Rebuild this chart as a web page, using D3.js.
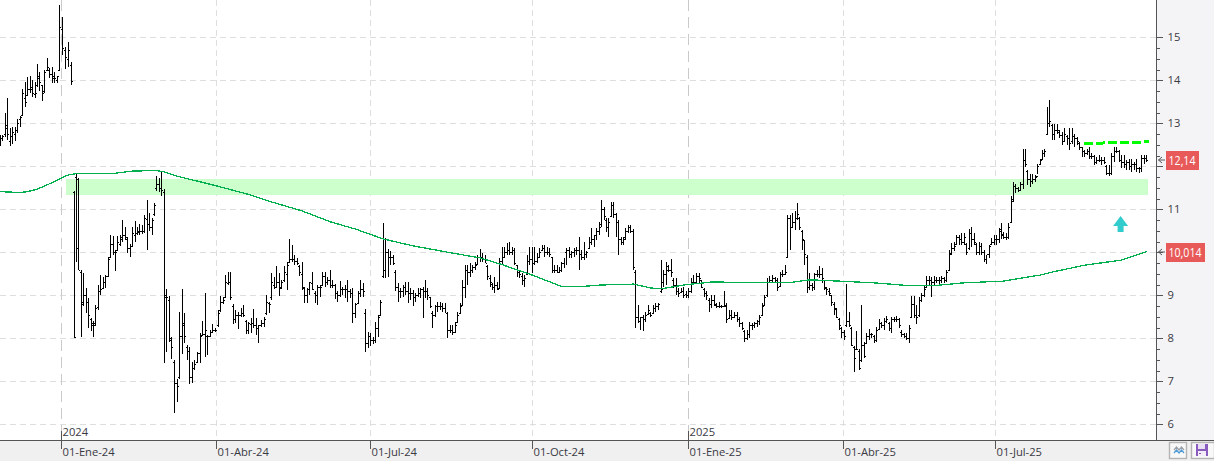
<!DOCTYPE html>
<html>
<head>
<meta charset="utf-8">
<script src="https://cdn.jsdelivr.net/npm/d3@7/dist/d3.min.js"></script>
<style>
html,body{margin:0;padding:0;background:#fff;overflow:hidden}
svg{display:block}
text{font-family:"Open Sans","Noto Sans",sans-serif}
</style>
</head>
<body>
<svg id="chart" width="1214" height="461"></svg>
<script>
// Daily high / low / open / close, one row per ten sessions
const highs = [
12.73,12.73,13.23,13.58,12.90,12.91,12.92,13.10,13.16,13.80,
13.97,14.07,14.09,14.00,13.97,14.37,14.20,13.90,14.24,14.52,
14.28,14.32,14.20,14.09,15.75,15.48,14.78,14.89,14.43,11.43,
11.84,11.72,9.59,9.51,9.16,8.93,8.47,8.41,8.78,9.24,
9.47,9.43,9.47,9.88,10.40,10.37,10.05,10.38,10.40,10.75,
10.58,10.35,10.20,10.60,10.73,10.60,10.65,10.63,10.87,11.22,
10.91,10.79,11.14,11.78,11.72,11.90,11.47,9.14,8.99,8.02,
7.50,7.05,8.61,9.14,8.58,7.85,7.80,7.46,7.50,7.69,
8.13,8.40,9.05,8.08,8.20,8.33,8.23,8.66,8.99,8.97,
9.47,9.55,9.55,8.80,8.66,8.62,8.70,8.78,8.43,8.39,
8.47,8.68,8.47,8.31,8.43,8.49,9.01,8.85,9.51,9.43,
9.68,9.51,9.36,9.68,9.78,10.30,10.17,9.94,9.86,9.70,
9.78,9.20,9.16,9.32,9.55,9.09,9.24,9.24,9.55,9.55,
9.42,9.60,9.36,9.26,9.09,9.34,9.20,9.24,9.36,9.14,
9.16,8.81,9.09,9.36,9.28,8.67,8.14,8.12,8.04,8.39,
8.54,8.89,10.67,10.33,10.07,10.02,9.94,9.60,9.28,9.16,
9.24,9.32,9.32,9.16,9.12,9.05,9.16,9.16,9.20,9.36,
9.16,8.97,8.64,8.78,8.85,8.85,8.81,8.81,8.62,8.31,
8.31,8.39,8.62,8.81,9.36,9.71,9.71,9.74,9.71,9.78,
9.94,10.07,9.99,9.94,9.71,9.47,9.28,9.43,9.32,9.86,
10.13,10.13,10.21,10.25,10.13,10.09,9.71,9.59,9.51,9.47,
9.94,10.13,10.13,10.13,9.98,10.09,10.17,10.17,10.13,10.09,
9.90,9.71,9.71,9.65,9.78,9.86,10.09,10.13,10.02,10.09,
10.13,10.36,10.05,10.25,10.02,10.36,10.56,10.40,10.56,10.71,
11.22,11.06,10.79,10.79,11.18,11.18,10.91,10.75,10.36,10.36,
10.56,10.64,10.64,10.54,9.59,8.78,8.50,8.54,8.62,8.78,
8.62,8.78,8.81,8.83,9.82,9.59,9.78,9.71,9.84,9.40,
9.40,9.16,9.18,9.20,9.09,9.16,9.40,9.47,9.51,9.51,
9.36,9.16,9.09,8.93,9.01,9.01,8.81,8.85,8.78,9.09,
8.81,8.66,8.66,8.62,8.62,8.50,8.39,8.19,8.19,8.39,
8.35,8.39,8.43,8.54,8.81,9.01,9.40,9.45,9.47,9.43,
9.40,9.55,9.59,9.71,10.87,10.87,10.91,10.95,11.14,10.83,
10.52,10.29,9.94,9.51,9.28,9.51,9.59,9.68,9.63,9.36,
9.20,9.16,9.01,8.85,8.70,8.47,8.27,8.19,9.26,8.62,
8.27,7.81,8.16,7.74,8.78,7.92,8.12,8.21,8.12,8.08,
8.27,8.44,8.39,8.47,8.52,8.39,8.50,8.50,8.52,8.47,
8.19,8.12,8.12,8.31,8.98,8.98,8.78,8.97,9.05,9.24,
9.45,9.45,9.43,9.45,9.43,9.42,9.45,9.43,9.59,10.05,
10.21,10.25,10.40,10.40,10.44,10.46,10.21,10.54,10.60,10.44,
10.21,10.25,10.21,10.05,9.94,10.17,10.33,10.40,10.40,10.56,
10.67,10.48,10.44,10.68,11.30,11.64,11.60,11.52,11.64,12.41,
12.41,11.91,11.83,11.83,11.79,12.06,12.18,12.37,12.41,13.38,
13.54,12.99,12.99,12.99,12.84,12.80,12.88,12.72,12.88,12.88,
12.76,12.68,12.57,12.45,12.37,12.41,12.44,12.30,12.26,12.22,
12.26,12.22,12.22,12.03,12.03,12.30,12.44,12.45,12.37,12.26,
12.26,12.14,12.18,12.18,12.10,12.18,11.99,12.26,12.26,12.26];

const lows = [
12.48,12.60,12.69,12.61,12.48,12.52,12.60,12.78,12.92,13.16,
13.37,13.63,13.70,13.62,13.58,13.84,13.76,13.53,13.70,14.24,
14.05,13.93,13.93,13.93,14.23,14.59,14.26,14.32,13.90,8.00,
9.78,9.59,8.04,8.75,8.58,8.25,8.16,8.04,8.29,8.66,
9.00,9.16,9.16,9.43,9.88,9.94,9.57,10.05,10.15,10.25,
10.29,9.98,9.88,10.12,10.25,10.40,10.40,10.42,10.45,10.05,
10.50,10.40,10.85,11.43,11.40,11.30,7.42,7.69,7.92,7.51,
6.27,6.53,7.05,7.64,7.88,7.50,6.93,6.97,7.26,7.42,
7.43,8.05,7.57,7.61,8.04,8.12,8.15,8.27,8.62,8.80,
8.93,9.24,8.90,8.33,8.35,8.21,8.49,8.49,8.10,8.10,
8.12,8.23,8.08,7.90,8.27,8.27,8.54,8.60,8.89,9.14,
9.16,8.99,9.14,9.32,9.12,9.74,9.78,9.71,9.71,9.45,
9.12,8.82,8.82,9.01,9.12,8.81,8.78,8.97,9.24,9.20,
9.24,9.16,9.16,8.91,8.85,8.97,9.01,8.93,8.85,8.93,
8.36,8.47,8.81,8.97,8.97,7.67,7.77,7.81,7.87,7.88,
8.04,8.54,9.40,9.40,9.42,9.70,9.70,9.09,8.85,8.93,
8.97,9.01,8.81,8.89,8.74,8.85,8.97,8.93,8.47,8.93,
8.89,8.70,8.23,8.50,8.62,8.66,8.62,8.58,8.00,8.12,
8.08,8.13,8.35,8.57,8.74,8.93,9.24,9.42,9.51,9.59,
9.71,9.78,9.78,9.74,9.36,9.20,9.12,9.05,9.12,9.16,
9.71,9.86,9.94,9.94,9.94,9.71,9.43,9.40,9.24,9.19,
9.47,9.71,9.51,9.71,9.74,9.86,10.02,9.90,9.94,9.90,
9.51,9.51,9.51,9.51,9.55,9.63,9.71,9.86,9.86,9.90,
9.94,9.59,9.82,9.82,9.86,10.09,10.17,10.13,10.29,10.40,
10.60,10.75,10.48,10.36,10.83,10.79,10.36,9.94,10.17,10.17,
10.29,10.44,10.44,9.59,8.23,8.35,8.19,8.18,8.39,8.54,
8.49,8.58,8.62,8.66,9.05,9.20,9.24,9.55,9.43,9.16,
9.01,8.97,9.05,8.93,8.93,8.93,9.05,9.24,9.28,9.28,
9.16,8.97,8.89,8.62,8.70,8.74,8.70,8.70,8.70,8.74,
8.35,8.47,8.43,8.47,8.39,8.27,8.19,7.92,7.96,8.00,
8.19,8.23,8.27,8.31,8.54,8.74,8.97,9.28,9.28,9.28,
9.09,9.20,9.43,9.47,9.86,10.05,10.56,10.52,10.75,10.52,
10.05,9.71,9.05,9.12,9.09,9.12,9.43,9.40,9.28,9.12,
9.01,8.98,8.74,8.54,8.47,8.19,8.00,7.96,8.27,8.27,
7.81,7.22,7.73,7.26,7.46,7.54,7.88,7.96,8.00,7.90,
7.92,8.19,8.23,8.19,8.35,8.16,8.12,8.39,8.39,8.23,
8.04,8.00,7.96,7.90,8.47,8.47,8.33,8.50,8.85,8.97,
9.16,9.24,8.95,9.24,9.28,9.24,9.29,9.29,9.32,9.59,
9.94,10.02,10.17,10.17,10.17,10.17,9.94,10.05,10.13,10.17,
9.94,9.94,9.94,9.78,9.73,9.86,10.17,10.17,10.17,10.21,
10.32,10.30,10.28,10.32,10.67,11.17,11.37,11.40,11.44,11.48,
11.99,11.56,11.52,11.60,11.64,11.83,12.03,12.14,12.22,12.72,
12.92,12.61,12.61,12.76,12.65,12.49,12.57,12.49,12.39,12.53,
12.45,12.49,12.39,12.22,12.22,12.26,12.18,12.18,12.03,12.06,
12.10,12.03,12.06,11.79,11.77,11.79,12.10,12.30,12.10,11.95,
11.95,11.91,11.91,11.87,11.91,11.87,11.85,11.87,12.06,12.10];

const opens = [
12.60,12.65,12.75,12.90,12.60,12.70,12.75,12.85,13.10,13.20,
13.60,13.65,13.80,13.80,13.68,13.90,14.05,13.90,13.75,14.25,
14.25,14.15,14.05,14.00,14.25,15.20,14.70,14.50,14.35,11.40,
11.75,11.70,9.55,8.85,9.00,8.85,8.45,8.35,8.35,8.72,
9.10,9.18,9.30,9.45,9.90,10.20,10.00,10.05,10.20,10.30,
10.40,10.30,10.10,10.15,10.40,10.45,10.48,10.50,10.50,10.78,
10.65,10.60,10.90,11.50,11.60,11.50,11.40,9.00,8.90,7.95,
7.45,6.95,7.10,8.05,8.30,7.80,7.70,7.10,7.30,7.45,
7.65,8.08,8.10,8.05,8.06,8.15,8.20,8.30,8.65,8.85,
8.95,9.28,9.30,8.75,8.45,8.55,8.55,8.60,8.40,8.20,
8.33,8.35,8.30,8.25,8.30,8.35,8.60,8.82,8.95,9.25,
9.20,9.30,9.18,9.35,9.50,9.78,9.85,9.85,9.80,9.68,
9.50,9.18,9.00,9.15,9.28,9.05,9.00,9.20,9.25,9.45,
9.30,9.35,9.25,9.24,9.05,9.00,9.15,9.15,9.15,9.10,
9.05,8.60,8.82,9.05,9.15,8.60,7.90,8.05,7.95,7.95,
8.25,8.55,9.45,9.60,10.00,9.90,9.90,9.55,9.20,9.10,
9.10,9.20,9.10,9.05,9.05,8.95,9.00,9.05,9.15,9.10,
9.10,8.95,8.60,8.55,8.75,8.75,8.75,8.70,8.58,8.20,
8.20,8.15,8.38,8.60,8.78,9.20,9.60,9.55,9.60,9.65,
9.72,9.90,9.90,9.85,9.68,9.40,9.27,9.20,9.25,9.18,
9.80,9.90,10.00,10.05,10.00,10.05,9.70,9.55,9.45,9.35,
9.50,9.80,9.85,9.75,9.80,9.90,10.05,10.10,10.00,10.00,
9.88,9.60,9.60,9.55,9.60,9.75,10.00,10.05,9.95,10.00,
10.05,10.05,9.95,9.90,9.95,10.10,10.25,10.30,10.40,10.50,
10.65,11.00,10.75,10.60,10.85,11.10,10.88,10.70,10.30,10.25,
10.35,10.50,10.60,10.50,9.55,8.50,8.40,8.50,8.45,8.56,
8.60,8.60,8.70,8.75,9.10,9.30,9.50,9.68,9.60,9.35,
9.25,9.10,9.07,9.10,9.02,9.00,9.10,9.30,9.30,9.45,
9.35,9.15,9.05,8.90,8.80,8.90,8.78,8.75,8.75,8.75,
8.75,8.48,8.55,8.50,8.55,8.45,8.35,8.18,8.00,8.10,
8.30,8.30,8.35,8.40,8.55,8.78,9.00,9.30,9.35,9.40,
9.35,9.22,9.50,9.50,9.90,10.80,10.60,10.70,10.80,10.80,
10.50,10.28,9.90,9.20,9.25,9.20,9.50,9.50,9.50,9.35,
9.18,9.10,9.00,8.80,8.68,8.45,8.25,8.15,8.30,8.40,
8.25,7.80,7.76,7.70,7.50,7.85,7.90,8.05,8.10,8.05,
7.95,8.22,8.35,8.30,8.40,8.35,8.25,8.45,8.45,8.45,
8.15,8.10,8.05,8.00,8.50,8.80,8.55,8.55,8.90,9.00,
9.20,9.35,9.35,9.30,9.35,9.35,9.35,9.40,9.35,9.60,
9.98,10.10,10.20,10.35,10.30,10.25,10.20,10.10,10.45,10.30,
10.20,10.00,10.15,10.00,9.85,9.95,10.20,10.25,10.30,10.30,
10.55,10.42,10.35,10.35,10.70,11.25,11.55,11.50,11.45,11.60,
12.15,11.90,11.70,11.65,11.70,11.78,12.05,12.18,12.30,12.75,
13.00,12.95,12.75,12.85,12.80,12.72,12.60,12.70,12.65,12.60,
12.70,12.65,12.55,12.45,12.35,12.30,12.35,12.25,12.25,12.10,
12.15,12.15,12.15,12.00,11.85,11.85,12.25,12.35,12.35,12.15,
12.10,12.05,12.10,12.00,12.05,12.05,11.95,11.95,12.20,12.20];

const closes = [
12.65,12.70,12.95,12.75,12.70,12.80,12.85,13.00,13.15,13.70,
13.50,13.80,13.85,13.70,13.70,14.10,13.95,13.70,14.20,14.30,
14.15,14.10,14.05,14.10,15.25,14.75,14.55,14.70,13.98,8.02,
10.10,9.60,8.80,9.00,8.85,8.55,8.30,8.30,8.70,9.10,
9.15,9.30,9.45,9.85,10.20,10.00,10.00,10.25,10.35,10.40,
10.35,10.10,10.15,10.45,10.45,10.50,10.50,10.50,10.80,10.65,
10.60,10.75,11.10,11.60,11.50,11.45,8.95,8.95,8.00,7.80,
6.95,6.90,8.05,8.35,8.05,7.70,7.10,7.30,7.40,7.65,
8.05,8.10,8.20,8.05,8.15,8.20,8.20,8.60,8.85,8.90,
9.30,9.30,8.95,8.45,8.55,8.55,8.60,8.55,8.20,8.35,
8.35,8.30,8.25,8.30,8.35,8.45,8.85,8.80,9.30,9.20,
9.30,9.20,9.30,9.55,9.70,9.85,9.85,9.80,9.75,9.55,
9.20,9.00,9.15,9.30,9.15,9.00,9.20,9.20,9.45,9.30,
9.35,9.25,9.25,9.05,9.00,9.15,9.15,9.15,9.10,9.05,
8.60,8.80,9.05,9.15,9.10,7.90,8.05,7.95,7.95,8.25,
8.50,8.85,9.60,10.00,9.90,9.90,9.75,9.20,9.10,9.10,
9.20,9.10,9.05,9.05,8.95,9.00,9.05,9.15,9.10,9.10,
9.00,8.75,8.55,8.75,8.75,8.75,8.70,8.60,8.20,8.20,
8.15,8.30,8.55,8.75,9.20,9.60,9.55,9.60,9.65,9.70,
9.90,9.90,9.85,9.75,9.45,9.30,9.20,9.25,9.15,9.80,
9.90,10.00,10.05,10.00,10.05,9.75,9.55,9.50,9.35,9.40,
9.80,9.85,9.75,9.80,9.90,10.00,10.10,10.00,10.00,9.95,
9.60,9.60,9.55,9.60,9.75,10.00,10.05,9.95,10.00,10.05,
10.05,9.95,9.90,9.95,10.00,10.25,10.30,10.40,10.50,10.60,
11.00,10.85,10.60,10.70,11.10,10.90,10.70,10.30,10.25,10.30,
10.50,10.60,10.50,9.65,8.50,8.40,8.50,8.45,8.55,8.65,
8.55,8.70,8.75,8.80,9.15,9.50,9.60,9.60,9.55,9.25,
9.10,9.05,9.10,9.00,9.00,9.10,9.30,9.30,9.45,9.40,
9.20,9.05,9.00,8.80,8.90,8.80,8.75,8.75,8.75,8.78,
8.45,8.55,8.50,8.55,8.45,8.35,8.25,8.00,8.10,8.30,
8.30,8.35,8.40,8.50,8.75,8.95,9.30,9.35,9.40,9.35,
9.20,9.50,9.50,9.55,10.80,10.60,10.70,10.80,10.90,10.60,
10.30,9.95,9.20,9.25,9.20,9.50,9.50,9.50,9.40,9.20,
9.15,9.05,8.85,8.70,8.50,8.30,8.15,8.05,8.40,8.30,
7.85,7.55,7.75,7.30,7.85,7.60,8.05,8.10,8.10,7.95,
8.20,8.35,8.30,8.40,8.45,8.25,8.45,8.45,8.45,8.30,
8.10,8.05,8.00,8.25,8.80,8.55,8.50,8.90,9.00,9.15,
9.35,9.35,9.30,9.35,9.35,9.35,9.40,9.35,9.55,9.95,
10.10,10.15,10.35,10.30,10.25,10.35,10.00,10.45,10.30,10.25,
10.00,10.15,10.00,9.85,9.95,10.15,10.25,10.30,10.30,10.50,
10.40,10.35,10.35,10.60,11.20,11.55,11.50,11.45,11.60,12.15,
12.05,11.70,11.65,11.70,11.75,12.00,12.15,12.30,12.35,13.00,
13.05,12.75,12.85,12.85,12.72,12.60,12.75,12.65,12.55,12.70,
12.65,12.60,12.45,12.35,12.30,12.35,12.25,12.25,12.10,12.15,
12.15,12.15,12.10,11.85,11.85,12.25,12.35,12.35,12.15,12.10,
12.05,12.10,12.00,12.05,12.05,11.95,11.95,12.20,12.20,12.14];

// Moving average, sampled at the sessions where its slope changes
const smaSession = [0,4,8,11,15,19,23,27,31,46,53,63,66,71,80,88,100,108,120,131,141,152,164,180,191,200,213,224,231,240,253,260,264,273,284,307,314,323,335,349,364,372,385,401,406,416,421,434,449,459];
const smaValue = [11.41,11.40,11.39,11.41,11.47,11.57,11.68,11.80,11.84,11.84,11.89,11.90,11.87,11.77,11.64,11.52,11.33,11.17,10.96,10.71,10.54,10.31,10.15,9.98,9.87,9.71,9.45,9.20,9.20,9.24,9.26,9.17,9.15,9.24,9.31,9.29,9.29,9.36,9.33,9.29,9.22,9.22,9.29,9.33,9.38,9.47,9.54,9.70,9.82,10.014];

const priceTicks = [6,7,8,9,10,11,12,13,14,15];
const dateTickSessions = [24.6,86.4,146.9,212.1,274.8,336.8,397.6];
const dateTickLabels = ["01-Ene-24","01-Abr-24","01-Jul-24","01-Oct-24","01-Ene-25","01-Abr-25","01-Jul-25"];
const yearSessions = [24.6,274.8];
const yearLabels = ["2024","2025"];

const supportBand = {from:26.2, to:459.4, low:11.33, high:11.71};
const resistanceSession = [433.8,460];
const resistanceValue = [12.53,12.57];
const signalSession = 448.5;
const signalPrice = 10.61;
const lastClose = 12.14;
const lastAverage = 10.014;

// The session axis skips market holidays unevenly, so it is piecewise between these sessions
const axisSessions = [0,24,29,66,118,152,240,254,314,341,399,420,459,460];
const axisPixels = [0.5,59.7,74,164.3,297.3,383.3,601.7,635.7,787.7,854,999,1049.7,1146.7,1149.2];

const W = 1214, H = 461, plotRight = 1156, plotBottom = 440;
const x = d3.scaleLinear().domain(axisSessions).range(axisPixels);
const y = d3.scaleLinear().domain([6,15]).range([424.3,37.3]);
const svg = d3.select("#chart");
const snapY = v => Math.round(v) + 0.5;
const snapX = v => Math.floor(v) + 0.5;

// Panels around the plot
svg.append("rect").attr("x",plotRight).attr("y",0).attr("width",W-plotRight).attr("height",H).attr("fill","#f4f4f7");
svg.append("rect").attr("x",0).attr("y",plotBottom).attr("width",W).attr("height",H-plotBottom).attr("fill","#f0f0f0");

// Grid
const grid = svg.append("g").attr("shape-rendering","crispEdges");
grid.selectAll("line.h").data(priceTicks).join("line").attr("class","h")
  .attr("x1",0).attr("x2",plotRight)
  .attr("y1",d=>snapY(y(d))).attr("y2",d=>snapY(y(d)))
  .attr("stroke","#dedede").attr("stroke-dasharray","6,4");
grid.selectAll("line.v").data(dateTickSessions).join("line").attr("class","v")
  .attr("x1",d=>snapX(x(d))).attr("x2",d=>snapX(x(d)))
  .attr("y1",0).attr("y2",plotBottom)
  .attr("stroke",d=>yearSessions.includes(d)?"#cacaca":"#dedede")
  .attr("stroke-dasharray",d=>yearSessions.includes(d)?"11,6":"6,4");

// Support zone
svg.append("rect")
  .attr("x",x(supportBand.from)).attr("width",x(supportBand.to)-x(supportBand.from))
  .attr("y",y(supportBand.high)).attr("height",y(supportBand.low)-y(supportBand.high))
  .attr("fill","#ccffcc").attr("shape-rendering","crispEdges");

// Price bars
const barPath = d3.path();
highs.forEach((h,i)=>{
  const px = snapX(x(i));
  barPath.moveTo(px,Math.round(y(h)));
  barPath.lineTo(px,Math.round(y(lows[i])));
  const oy = snapY(y(opens[i])), cy = snapY(y(closes[i]));
  barPath.moveTo(px-1.5,oy); barPath.lineTo(px,oy);
  barPath.moveTo(px,cy); barPath.lineTo(px+1.5,cy);
});
svg.append("path").attr("d",barPath.toString()).attr("fill","none")
  .attr("stroke","#000").attr("stroke-width",1).attr("shape-rendering","crispEdges");

// Moving average
const smaLine = d3.line().x(d=>x(d[0])).y(d=>y(d[1]));
svg.append("path").attr("d",smaLine(d3.zip(smaSession,smaValue)))
  .attr("fill","none").attr("stroke","#00b050").attr("stroke-width",1.3)
  .attr("shape-rendering","crispEdges");

// Dashed resistance
svg.append("path").attr("d",smaLine(d3.zip(resistanceSession,resistanceValue)))
  .attr("fill","none").attr("stroke","#00ff00").attr("stroke-width",3)
  .attr("stroke-dasharray","9,3").attr("shape-rendering","crispEdges");

// Signal arrow
const ax = x(signalSession), ay = y(signalPrice);
const arrow = d3.path();
arrow.moveTo(ax,ay-10);
arrow.lineTo(ax+7.5,ay);
arrow.lineTo(ax+3,ay);
arrow.lineTo(ax+3,ay+6);
arrow.lineTo(ax-3,ay+6);
arrow.lineTo(ax-3,ay);
arrow.lineTo(ax-7.5,ay);
arrow.closePath();
svg.append("path").attr("d",arrow.toString()).attr("fill","#33cccc");

// Price axis with quarter-unit minor ticks
const minorTicks = d3.range(24,61).map(d=>d/4).filter(d=>y(d)>2&&y(d)<plotBottom&&!Number.isInteger(d));
const minorAxis = d3.axisRight(y).tickValues(minorTicks).tickSize(3).tickFormat("");
const gMinor = svg.append("g").attr("transform",`translate(${plotRight+0.5},0)`).call(minorAxis);
gMinor.select(".domain").remove();
gMinor.selectAll("line").attr("stroke","#555").attr("shape-rendering","crispEdges");
const majorAxis = d3.axisRight(y).tickValues(priceTicks).tickSize(6).tickPadding(5).tickFormat(d3.format("d"));
const gMajor = svg.append("g").attr("transform",`translate(${plotRight+0.5},0)`).call(majorAxis);
gMajor.select(".domain").remove();
gMajor.selectAll("line").attr("stroke","#555").attr("shape-rendering","crispEdges");
gMajor.selectAll("text").attr("font-size",11.2).attr("fill","#3a3a44").attr("font-family",'"Open Sans",sans-serif');

svg.append("line").attr("x1",plotRight+0.5).attr("x2",plotRight+0.5).attr("y1",0).attr("y2",plotBottom)
  .attr("stroke","#555").attr("shape-rendering","crispEdges");
svg.append("line").attr("x1",0).attr("x2",W).attr("y1",plotBottom+0.5).attr("y2",plotBottom+0.5)
  .attr("stroke","#555").attr("stroke-width",1.5).attr("shape-rendering","crispEdges");

// Date axis: tick stems reach up into the plot at year starts
const dateAxis = svg.append("g").attr("shape-rendering","crispEdges");
dateAxis.selectAll("line").data(dateTickSessions).join("line")
  .attr("x1",d=>snapX(x(d))).attr("x2",d=>snapX(x(d)))
  .attr("y1",d=>yearSessions.includes(d)?431:plotBottom).attr("y2",449)
  .attr("stroke","#555");
svg.selectAll("text.date").data(dateTickSessions).join("text").attr("class","date")
  .attr("x",d=>snapX(x(d))+1).attr("y",456)
  .attr("font-size",11.2).attr("fill","#3a3a44")
  .text((d,i)=>dateTickLabels[i]);
svg.selectAll("text.year").data(yearSessions).join("text").attr("class","year")
  .attr("x",d=>snapX(x(d))+1).attr("y",436)
  .attr("font-size",11.2).attr("fill","#3a3a44")
  .text((d,i)=>yearLabels[i]);

// Last-value tags with pointers
const decimalComma = (v,digits) => v.toFixed(digits).replace(".",",");
const tags = [{v:lastClose,t:decimalComma(lastClose,2),w:33,len:27},{v:lastAverage,t:decimalComma(lastAverage,3),w:39,len:33}];
tags.forEach(tag=>{
  const cy = Math.round(y(tag.v));
  svg.append("rect").attr("x",1166).attr("y",cy-9).attr("width",tag.w).attr("height",19).attr("fill","#e85a5a");
  svg.append("text").attr("x",1168.5).attr("y",cy+5).attr("font-size",12.5).attr("fill","#fff")
    .attr("textLength",tag.len).attr("lengthAdjust","spacingAndGlyphs").text(tag.t);
  svg.append("path").attr("d",`M1162,${cy-3}L1158.5,${cy}L1162,${cy+3}M1158.5,${cy}H1165`)
    .attr("fill","none").attr("stroke","#555");
});

// Toolbar buttons in the lower-right corner
const buttons = svg.append("g");
buttons.append("rect").attr("x",1169.5).attr("y",442.5).attr("width",17).attr("height",16)
  .attr("fill","#f8f8f8").attr("stroke","#b4b4b4").attr("stroke-width",1.4);
buttons.append("path").attr("d","M1174,450l2.5,-3l2.5,3l2.5,-3l2.5,3").attr("fill","none").attr("stroke","#9aa0a8").attr("stroke-width",1.2);
buttons.append("path").attr("d","M1174,453l2.5,-3l2.5,3l2.5,-3l2.5,3").attr("fill","none").attr("stroke","#4a9bd8").attr("stroke-width",1.2);
buttons.append("rect").attr("x",1191.5).attr("y",442.5).attr("width",23).attr("height",16)
  .attr("fill","#f8f8f8").attr("stroke","#b4b4b4").attr("stroke-width",1.4);
buttons.append("rect").attr("x",1196).attr("y",444).attr("width",12).attr("height",12).attr("fill","#8a5cc0");
buttons.append("rect").attr("x",1198).attr("y",444).attr("width",7).attr("height",5).attr("fill","#e8e0f4");
buttons.append("rect").attr("x",1198).attr("y",451).attr("width",8).attr("height",5).attr("fill","#f2edf8");
buttons.append("rect").attr("x",1199).attr("y",453).attr("width",2).attr("height",1).attr("fill","#8a5cc0");
</script>
</body>
</html>
